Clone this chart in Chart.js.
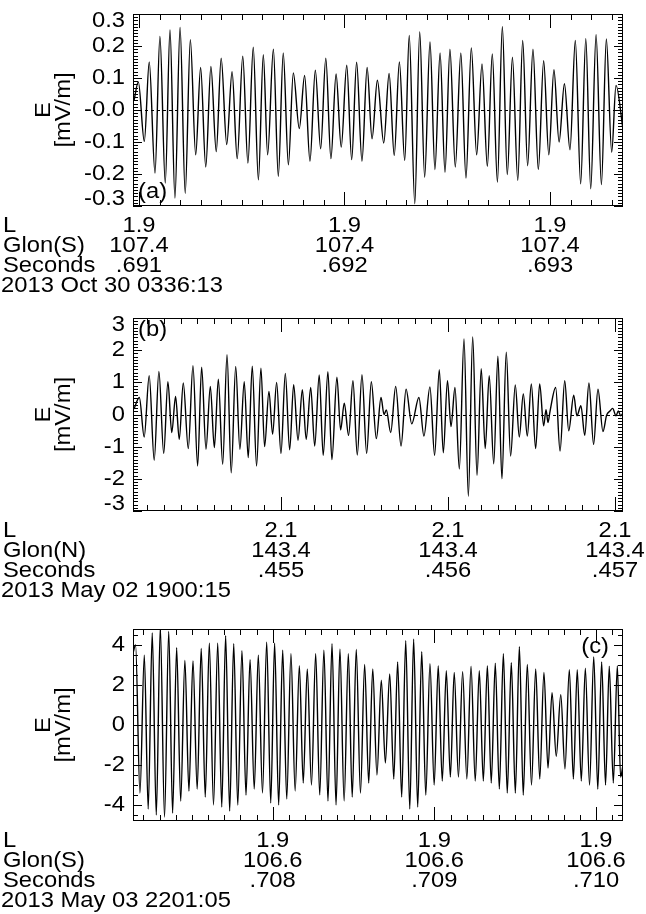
<!DOCTYPE html>
<html>
<head>
<meta charset="utf-8">
<script src="https://cdn.jsdelivr.net/npm/chart.js@4.4.1/dist/chart.umd.min.js"></script>
<style>
  html, body { margin: 0; padding: 0; background: #fff; }
  #wrap { position: relative; width: 646px; height: 914px; }
  #wrap canvas { position: absolute; left: 0; }
</style>
</head>
<body>
<div id="wrap">
  <canvas id="panelA" width="646" height="305" style="top:0px"></canvas>
  <canvas id="panelB" width="646" height="305" style="top:305px"></canvas>
  <canvas id="panelC" width="646" height="304" style="top:610px"></canvas>
</div>
<script>
// Wave electric field, three bursts. Times in ms of the second, E in mV/m.
// Each series lists the turning points of the waveform.

// (a) 2013 Oct 30
const tA = [
  690.976, 690.997, 691.026, 691.050, 691.078, 691.102, 691.128, 691.151, 691.175, 691.200,
  691.225, 691.250, 691.276, 691.300, 691.325, 691.350, 691.376, 691.400, 691.427, 691.453,
  691.478, 691.505, 691.530, 691.556, 691.581, 691.605, 691.626, 691.654, 691.678, 691.702,
  691.727, 691.751, 691.780, 691.806, 691.832, 691.858, 691.884, 691.909, 691.934, 691.959,
  691.984, 692.011, 692.035, 692.059, 692.085, 692.110, 692.134, 692.160, 692.191, 692.217,
  692.242, 692.267, 692.293, 692.315, 692.342, 692.366, 692.390, 692.416, 692.440, 692.465,
  692.489, 692.513, 692.539, 692.566, 692.591, 692.617, 692.643, 692.669, 692.695, 692.719,
  692.744, 692.768, 692.792, 692.817, 692.843, 692.867, 692.891, 692.917, 692.943, 692.969,
  692.994, 693.019, 693.044, 693.070, 693.097, 693.123, 693.149, 693.174, 693.198, 693.224,
  693.250, 693.274, 693.300, 693.321, 693.355
];
const eA = [
  0.03, 0.088, -0.098, 0.15, -0.197, 0.23, -0.228, 0.25, -0.275, 0.258,
  -0.26, 0.22, -0.14, 0.133, -0.178, 0.136, -0.13, 0.162, -0.108, 0.12,
  -0.152, 0.168, -0.166, 0.196, -0.218, 0.173, -0.14, 0.19, -0.207, 0.178,
  -0.171, 0.116, -0.058, 0.108, -0.16, 0.124, -0.121, 0.162, -0.152, 0.1125,
  -0.116, 0.14, -0.155, 0.149, -0.16, 0.133, -0.09, 0.093, -0.103, 0.114,
  -0.142, 0.15, -0.158, 0.233, -0.293, 0.244, -0.21, 0.2125, -0.186, 0.178,
  -0.195, 0.19, -0.178, 0.178, -0.2125, 0.194, -0.14, 0.144, -0.176, 0.175,
  -0.225, 0.26, -0.202, 0.165, -0.22, 0.217, -0.174, 0.19, -0.186, 0.154,
  -0.14, 0.126, -0.1, 0.082, -0.124, 0.217, -0.231, 0.223, -0.246, 0.235,
  -0.233, 0.222, -0.132, 0.077, -0.06
];

// (b) 2013 May 02
const tB = [
  454.120, 454.152, 454.181, 454.211, 454.241, 454.269, 454.298, 454.323, 454.346, 454.369,
  454.391, 454.415, 454.445, 454.473, 454.501, 454.525, 454.551, 454.577, 454.601, 454.625,
  454.651, 454.677, 454.702, 454.729, 454.754, 454.780, 454.804, 454.828, 454.854, 454.880,
  454.902, 454.928, 454.950, 454.974, 455.000, 455.026, 455.052, 455.076, 455.102, 455.128,
  455.151, 455.178, 455.202, 455.229, 455.253, 455.281, 455.305, 455.335, 455.357, 455.379,
  455.405, 455.431, 455.457, 455.485, 455.513, 455.541, 455.571, 455.599, 455.617, 455.631,
  455.657, 455.687, 455.719, 455.749, 455.783, 455.826, 455.856, 455.892, 455.920, 455.948,
  455.972, 455.997, 456.018, 456.042, 456.068, 456.096, 456.122, 456.148, 456.174, 456.199,
  456.223, 456.247, 456.274, 456.299, 456.323, 456.349, 456.375, 456.403, 456.427, 456.451,
  456.475, 456.499, 456.525, 456.549, 456.573, 456.587, 456.599, 456.611, 456.645, 456.671,
  456.699, 456.723, 456.753, 456.772, 456.796, 456.819, 456.844, 456.872, 456.898, 456.928,
  456.950, 456.970, 456.986, 457.006, 457.020, 457.034, 457.048
];
const eB = [
  0.17, 0.53, -0.70, 1.21, -1.42, 1.34, -1.21, 1.02, -0.56, 0.56,
  -0.77, 0.98, -1.06, 1.52, -1.6, 1.47, -1.08, 0.875, -1.03, 1.1,
  -1.55, 1.86, -1.81, 1.49, -1.08, 1.02, -1.34, 1.5, -1.6, 1.44,
  -1.0, 0.72, -0.61, 1.0, -1.21, 1.28, -1.1, 0.93, -0.80, 0.77,
  -0.77, 0.84, -0.98, 1.23, -1.27, 1.33, -1.40, 1.16, -0.48, 0.35,
  -0.65, 1.05, -1.26, 1.24, -1.21, 1.02, -0.75, 0.53, 0.0, 0.14,
  -0.56, 0.875, -0.98, 0.79, -0.29, 0.53, -0.67, 0.86, -1.27, 1.39,
  -1.19, 1.05, -0.375, 0.84, -1.69, 2.35, -2.54, 2.41, -1.89, 1.42,
  -1.06, 1.21, -1.53, 1.81, -2.0, 1.94, -1.29, 0.92, -0.70, 0.64,
  -0.67, 0.95, -1.06, 0.95, -0.35, 0.15, -0.25, 0.1, 0.84, -1.14,
  1.05, -0.51, 0.60, -0.04, 0.27, -0.65, 0.98, -0.93, 0.79, -0.53,
  -0.02, 0.11, 0.19, -0.04, 0.11, -0.04, 0.04
];

// (c) 2013 May 03
const tC = [
  707.136, 707.152, 707.179, 707.206, 707.230, 707.255, 707.280, 707.305, 707.331, 707.357,
  707.381, 707.406, 707.431, 707.457, 707.482, 707.507, 707.533, 707.558, 707.583, 707.608,
  707.634, 707.660, 707.685, 707.709, 707.734, 707.759, 707.784, 707.810, 707.835, 707.860,
  707.886, 707.911, 707.937, 707.963, 707.988, 708.012, 708.037, 708.062, 708.087, 708.113,
  708.139, 708.165, 708.189, 708.214, 708.240, 708.266, 708.291, 708.317, 708.342, 708.367,
  708.392, 708.416, 708.442, 708.468, 708.492, 708.517, 708.543, 708.569, 708.594, 708.619,
  708.645, 708.672, 708.697, 708.724, 708.749, 708.773, 708.798, 708.823, 708.848, 708.872,
  708.897, 708.922, 708.947, 708.973, 708.999, 709.024, 709.049, 709.074, 709.099, 709.123,
  709.149, 709.175, 709.201, 709.227, 709.253, 709.278, 709.303, 709.328, 709.352, 709.377,
  709.402, 709.427, 709.451, 709.476, 709.501, 709.526, 709.550, 709.575, 709.601, 709.627,
  709.652, 709.678, 709.703, 709.728, 709.754, 709.782, 709.808, 709.835, 709.860, 709.884,
  709.909, 709.934, 709.960, 709.986, 710.011, 710.035, 710.059, 710.082, 710.107, 710.132,
  710.152, 710.167
];
const eC = [
  3.6, 4.0, -3.4, 3.49, -4.2, 4.6, -4.5, 4.9, -4.6, 4.68,
  -4.4, 3.86, -3.8, 3.23, -3.3, 3.2, -3.2, 3.83, -3.6, 4.09,
  -4.0, 4.09, -4.1, 4.46, -4.3, 4.07, -4.0, 3.71, -3.5, 3.26,
  -3.2, 3.49, -3.4, 4.14, -3.9, 4.09, -4.0, 3.74, -3.7, 3.57,
  -3.3, 2.97, -2.9, 2.80, -3.0, 3.57, -3.5, 3.74, -3.8, 4.07,
  -4.0, 3.79, -3.8, 3.57, -3.6, 3.78, -3.4, 3.03, -2.9, 2.80,
  -2.5, 2.24, -1.9, 2.55, -2.7, 3.15, -3.6, 4.22, -4.2, 4.29,
  -4.1, 3.66, -3.5, 3.06, -3.0, 2.97, -2.8, 2.72, -2.6, 2.63,
  -2.6, 2.67, -2.7, 2.94, -2.8, 2.72, -2.8, 2.97, -2.9, 3.09,
  -3.2, 3.57, -3.4, 3.11, -3.4, 3.91, -3.5, 3.03, -3.0, 2.80,
  -2.7, 2.63, -2.15, 1.61, -1.56, 1.52, -2.2, 2.77, -2.7, 2.77,
  -2.8, 2.84, -3.0, 3.40, -3.2, 3.15, -3.0, 2.94, -2.9, 2.97,
  -2.6, -2.0
];

// y tick values and their printed labels
const yTicksA = [0.3, 0.2, 0.1, 0.0, -0.1, -0.2, -0.3];
const yLabelsA = ['0.3', '0.2', '0.1', '-0.0', '-0.1', '-0.2', '-0.3'];
const yTicksB = [3, 2, 1, 0, -1, -2, -3];
const yLabelsB = ['3', '2', '1', '0', '-1', '-2', '-3'];
const yTicksC = [4, 2, 0, -2, -4];
const yLabelsC = ['4', '2', '0', '-2', '-4'];

// x tick values (ms) and the ephemeris rows printed under them
const xTicksA = [691, 692, 693];
const lShellA = ['1.9', '1.9', '1.9'];
const glonA = ['107.4', '107.4', '107.4'];
const secA = ['.691', '.692', '.693'];

const xTicksB = [455, 456, 457];
const lShellB = ['2.1', '2.1', '2.1'];
const glonB = ['143.4', '143.4', '143.4'];
const secB = ['.455', '.456', '.457'];

const xTicksC = [708, 709, 710];
const lShellC = ['1.9', '1.9', '1.9'];
const glonC = ['106.6', '106.6', '106.6'];
const secC = ['.708', '.709', '.710'];

const FONT = '"Liberation Sans", Arial, Helvetica, sans-serif';
const FS = 22;
const SX = 1.08;   // the plot font runs a little wide

// draw a string stretched horizontally by SX
function txt(ctx, s, x, y, align) {
  const w = ctx.measureText(s).width * SX;
  const x0 = align === 'center' ? x - w / 2 : align === 'right' ? x - w : x;
  ctx.save();
  ctx.translate(x0, y);
  ctx.scale(SX, 1);
  ctx.textAlign = 'left';
  ctx.fillText(s, 0, 0);
  ctx.restore();
}

// frame, inward ticks, labels and the ephemeris block, IDL style
const idlAxes = {
  id: 'idlAxes',
  beforeDatasetsDraw(chart, args, o) {
    const { ctx, chartArea: a, scales: { y } } = chart;
    const y0 = Math.round(y.getPixelForValue(0)) + 0.5;
    ctx.save();
    ctx.strokeStyle = '#000';
    ctx.lineWidth = 1;
    ctx.setLineDash([3, 3]);
    ctx.beginPath();
    ctx.moveTo(a.left, y0);
    ctx.lineTo(a.right, y0);
    ctx.stroke();
    ctx.restore();
  },
  afterDraw(chart, args, o) {
    const { ctx, chartArea: a, scales: { x, y } } = chart;
    ctx.save();
    ctx.strokeStyle = '#000';
    ctx.fillStyle = '#000';
    ctx.lineWidth = 1;
    ctx.strokeRect(a.left + 0.5, a.top + 0.5, a.right - a.left - 1, a.bottom - a.top - 1);

    ctx.beginPath();
    // x minor/major ticks on top and bottom
    const xk0 = Math.ceil(x.min / o.xMinor - 1e-6), xk1 = Math.floor(x.max / o.xMinor + 1e-6);
    for (let k = xk0; k <= xk1; k++) {
      const v = k * o.xMinor;
      const major = Math.abs(v - Math.round(v)) < o.xMinor / 10;
      const len = major ? 14 : 6;
      const px = Math.round(x.getPixelForValue(v)) + 0.5;
      ctx.moveTo(px, a.bottom); ctx.lineTo(px, a.bottom - len);
      ctx.moveTo(px, a.top); ctx.lineTo(px, a.top + len);
    }
    // y minor/major ticks on left and right
    const yk0 = Math.ceil(y.min / o.yMinor - 1e-6), yk1 = Math.floor(y.max / o.yMinor + 1e-6);
    for (let k = yk0; k <= yk1; k++) {
      const v = k * o.yMinor;
      const major = o.yTicks.some(t => Math.abs(t - v) < o.yMinor / 10);
      const len = major ? 9 : 5;
      const py = Math.round(y.getPixelForValue(v)) + 0.5;
      ctx.moveTo(a.left, py); ctx.lineTo(a.left + len, py);
      ctx.moveTo(a.right, py); ctx.lineTo(a.right - len, py);
    }
    ctx.stroke();

    ctx.font = FS + 'px ' + FONT;
    ctx.textBaseline = 'middle';

    // y tick labels
    o.yTicks.forEach((t, i) => {
      let py = y.getPixelForValue(t);
      py = Math.max(a.top + 7, Math.min(a.bottom - 7, py));
      txt(ctx, o.yLabels[i], a.left - 8, py, 'right');
    });

    // y title, two rotated lines
    ctx.save();
    ctx.translate(o.titleX, (a.top + a.bottom) / 2);
    ctx.rotate(-Math.PI / 2);
    txt(ctx, 'E', 0, 0, 'center');
    txt(ctx, '[mV/m]', 0, 20, 'center');
    ctx.restore();

    // panel letter
    const lx = o.letterAlign === 'left' ? a.left + 5 : a.right - 14;
    txt(ctx, o.letter, lx, o.letterTop ? a.top + o.letterDy : a.bottom - o.letterDy, o.letterAlign);

    // ephemeris block under the axis
    const rowY = [a.bottom + 20, a.bottom + 40, a.bottom + 60, a.bottom + 80];
    txt(ctx, 'L', 3, rowY[0], 'left');
    txt(ctx, o.glonName, 3, rowY[1], 'left');
    txt(ctx, 'Seconds', 3, rowY[2], 'left');
    txt(ctx, o.date, 1, rowY[3], 'left');
    o.xTicks.forEach((t, i) => {
      const px = x.getPixelForValue(t);
      txt(ctx, o.rows[0][i], px, rowY[0], 'center');
      txt(ctx, o.rows[1][i], px, rowY[1], 'center');
      txt(ctx, o.rows[2][i], px, rowY[2], 'center');
    });
    ctx.restore();
  }
};

function makePanel(id, times, values, xmin, xmax, ymax, pad, axisOpts) {
  const n = Math.min(times.length, values.length);
  const pts = [];
  for (let i = 0; i < n; i++) pts.push({ x: times[i], y: values[i] });
  return new Chart(document.getElementById(id), {
    type: 'line',
    data: {
      datasets: [{
        data: pts,
        borderColor: '#000',
        borderWidth: 1.4,
        pointRadius: 0,
        fill: false,
        cubicInterpolationMode: 'monotone'
      }]
    },
    options: {
      responsive: false,
      animation: false,
      devicePixelRatio: 1,
      layout: { padding: pad },
      plugins: {
        legend: { display: false },
        tooltip: { enabled: false },
        idlAxes: axisOpts
      },
      scales: {
        x: { type: 'linear', min: xmin, max: xmax, display: false },
        y: { type: 'linear', min: -ymax, max: ymax, display: false }
      }
    },
    plugins: [idlAxes]
  });
}

makePanel('panelA', tA, eA, 690.971, 693.355, 0.3,
  { left: 133, right: 23, top: 14, bottom: 99 },
  { xMinor: 0.1, yMinor: 0.01, yTicks: yTicksA, yLabels: yLabelsA, titleX: 44,
    letter: '(a)', letterAlign: 'left', letterTop: false, letterDy: 14,
    xTicks: xTicksA, rows: [lShellA, glonA, secA], glonName: 'Glon(S)', date: '2013 Oct 30 0336:13' });

makePanel('panelB', tB, eB, 454.114, 457.048, 3,
  { left: 133, right: 23, top: 13, bottom: 99 },
  { xMinor: 0.1, yMinor: 0.1, yTicks: yTicksB, yLabels: yLabelsB, titleX: 44,
    letter: '(b)', letterAlign: 'left', letterTop: true, letterDy: 12,
    xTicks: xTicksB, rows: [lShellB, glonB, secB], glonName: 'Glon(N)', date: '2013 May 02 1900:15' });

makePanel('panelC', tC, eC, 707.136, 710.167, 4.8,
  { left: 133, right: 23, top: 19, bottom: 93 },
  { xMinor: 0.1, yMinor: 0.5, yTicks: yTicksC, yLabels: yLabelsC, titleX: 44,
    letter: '(c)', letterAlign: 'right', letterTop: true, letterDy: 18,
    xTicks: xTicksC, rows: [lShellC, glonC, secC], glonName: 'Glon(S)', date: '2013 May 03 2201:05' });
</script>
</body>
</html>
